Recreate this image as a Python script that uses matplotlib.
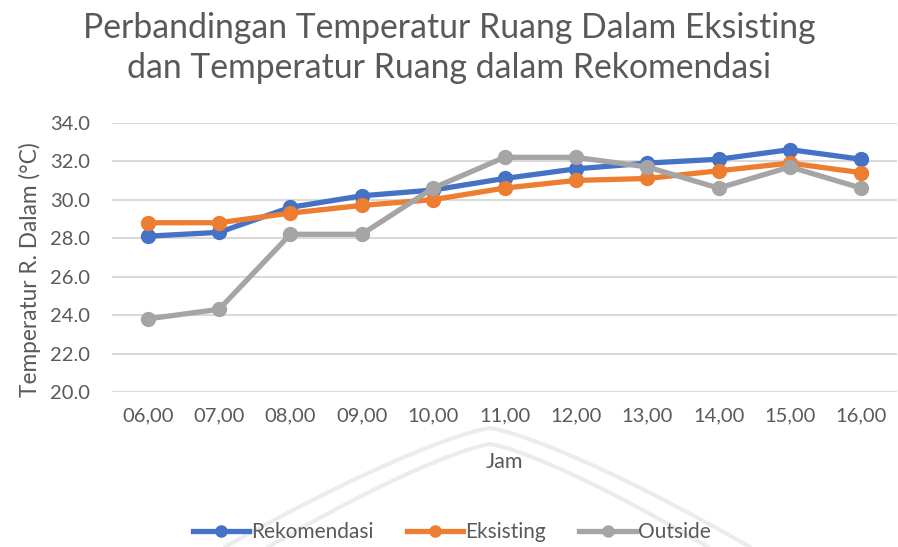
import matplotlib.pyplot as plt
import numpy as np

jam = ['06,00', '07,00', '08,00', '09,00', '10,00', '11,00',
       '12,00', '13,00', '14,00', '15,00', '16,00']
rekomendasi = [28.1, 28.3, 29.6, 30.2, 30.5, 31.1, 31.6, 31.9, 32.1, 32.6, 32.1]
eksisting = [28.8, 28.8, 29.3, 29.7, 30.0, 30.6, 31.0, 31.1, 31.5, 31.9, 31.4]
outside = [23.8, 24.3, 28.2, 28.2, 30.6, 32.2, 32.2, 31.7, 30.6, 31.7, 30.6]
yticks = [20, 22, 24, 26, 28, 30, 32, 34]

plt.rcParams['font.family'] = ['Lato', 'DejaVu Sans']
textcol = '#595959'

fig = plt.figure(figsize=(8.98, 5.47), dpi=100)

# faint logo watermark behind the chart
wm = fig.add_axes([0, 0, 1, 1], zorder=0)
wm.set_xlim(0, 898)
wm.set_ylim(547, 0)
wm.axis('off')
t = np.linspace(0, 1, 50)
for top, left, right in [(428, 225, 750), (444, 268, 708)]:
    for end in (left, right):
        xs = 490 + (end - 490) * t
        ys = top + (547 - top) * t ** 1.25
        wm.plot(xs, ys, color='#ececec', lw=3, solid_capstyle='round')

ax = fig.add_axes([112 / 898, 1 - 392 / 547, 785 / 898, (392 - 122.7) / 547], zorder=1)
ax.patch.set_alpha(0)
x = np.arange(len(jam))
series = [(rekomendasi, '#4472C4', 'Rekomendasi'),
          (eksisting, '#ED7D31', 'Eksisting'),
          (outside, '#A5A5A5', 'Outside')]
for vals, col, name in series:
    ax.plot(x, vals, color=col, lw=3.8, marker='o', markersize=10, label=name)

ax.set_xlim(-0.5, len(jam) - 0.5)
ax.set_ylim(20, 34)
ax.set_yticks(yticks)
ax.set_yticklabels([f'{v:.1f}' for v in yticks])
ax.set_xticks(x)
ax.set_xticklabels(jam)
ax.grid(axis='y', color='#d9d9d9', lw=1.5)
ax.set_axisbelow(True)
for s in ax.spines.values():
    s.set_visible(False)
ax.tick_params(length=0, labelsize=14.5, colors=textcol, pad=11)
ax.tick_params(axis='y', pad=16)
ax.set_xlabel('Jam', fontsize=15.5, color=textcol, labelpad=20)
ax.set_ylabel('Temperatur R. Dalam (°C)', fontsize=16.3, color=textcol)
ax.yaxis.set_label_coords(-0.091, 0.455)

fig.text(0.5, 1 - 48 / 547, 'Perbandingan Temperatur Ruang Dalam Eksisting\ndan Temperatur Ruang dalam Rekomendasi',
         ha='center', va='center', fontsize=24.3, color=textcol, linespacing=1.33)

fig.legend(loc='center', bbox_to_anchor=(0.503, 1 - 532 / 547), ncol=3, frameon=False,
           fontsize=15, labelcolor=textcol, handlelength=2.7, handletextpad=0.1,
           columnspacing=1.6, markerscale=0.8)

fig.savefig('out.png', dpi=100)
